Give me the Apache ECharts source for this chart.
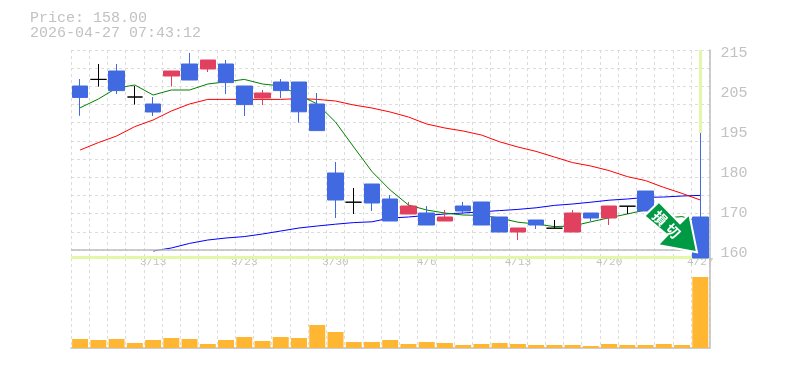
<!DOCTYPE html>
<html><head><meta charset="utf-8"><style>html,body{margin:0;padding:0;background:#fff}#c{width:785px;height:370px}</style>
<script src="https://cdn.jsdelivr.net/npm/echarts@6/dist/echarts.min.js"></script></head><body><div id="c"></div>
<script>
const categories=['3/9','3/10','3/11','3/12','3/13','3/16','3/17','3/18','3/19','3/23','3/24','3/25','3/26','3/27','3/30','3/31','4/1','4/2','4/3','4/6','4/7','4/8','4/9','4/10','4/13','4/14','4/15','4/16','4/17','4/20','4/21','4/22','4/23','4/24','4/27'];
const opens=[206.75,208.4,210.5,204,202.25,209.25,212.25,211,212.25,206.75,203.75,207.75,207.75,202.25,180,172.7,177.25,173.5,169.75,170,168,171.75,172.75,169,165.25,168.25,166.2,165.25,170,168.75,171.7,175.5,169.75,166.75,169];
const closes=[203.9,208.4,205.6,204,200.25,210.5,208.25,213.25,207.6,202.1,205,205.6,200.3,195.6,173.25,172.7,172.5,168,171.75,167,169,170.5,167,165.25,166.25,167,166.2,170,168.75,171.75,171.7,170.5,167.25,163.75,158.75];
const lows=[199.3,206.6,204.75,202.1,199.25,206.6,208.25,210.25,204.75,199.25,202,203.75,197.6,195.6,168.75,169.75,170.5,168,169.75,167,168,169.75,167,165.25,163.25,166,166.2,165.25,168,167,169.75,170.5,167.25,163.75,158.75];
const highs=[208.5,212.25,212.25,206.75,204,210.5,215,213.25,213.25,206.75,205.75,208.5,207.75,205,187.75,176.25,177.25,174.5,172.75,171.75,170.75,172.75,172.75,169,166.25,168.25,168.25,170.75,170,171.75,171.7,175.5,169.75,166.75,195];
const maShort=[201.3,203.5,206.25,207,204.5,205.75,205.75,207.25,207.8,208.4,207.25,206.75,204.5,202.25,197.75,191.5,185.35,175.75,172,170.75,170,169.5,169.4,168.75,167.7,167.25,166.6,166.75,167.8,168.8,169.75,170.75,168.75,169.1,167.75];
const maMid=[190.75,192.6,194.25,196.6,198.25,200.5,202.25,203.4,203.4,203.4,203.4,203.4,203.6,203.4,203,202,201.25,200.25,199,197.25,196.25,195.5,194.5,192.8,191.5,190.4,189,187.6,186.75,185.6,179.1,178.1,176.4,174.9,173.25];
const maLong=[null,null,null,null,160.5,161.25,162.4,163.25,163.75,164.1,164.75,165.5,166.25,166.75,167.2,167.6,167.8,168.75,169,169.4,169.75,170,170.3,170.6,170.9,171.3,171.9,172.25,172.7,173.2,173.5,173.9,174,174.25,174.4];
const volumes=[9,8,9,5,8,10,9,4,8,11,7,11,10,23,16,6,6,8,4,6,5,3,4,5,4,3,3,3,2,4,3,3,4,3,71];
const priceTicks=[215,205,195,180,170,160];
const labelledDates=['3/13','3/23','3/30','4/6','4/13','4/20','4/27'];
const titleText='Price: 158.00\n2026-04-27 07:43:12';
const signalText=['損','切'];

const BLUE='#4169e1',RED='#e2405f',GREY='#bdbdbd',LIGHT='#dcdcdc',TXT='#c2c2c2',YEL='#e4f7a8',MONO='"Liberation Mono","DejaVu Sans Mono",monospace';
const candles=categories.map((c,i)=>{
  const v=[opens[i],closes[i],lows[i],highs[i]];
  if(opens[i]===closes[i]) return {value:v,itemStyle:{color:'#000',color0:'#000',borderColor:'#000',borderColor0:'#000'}};
  return v;
});
const dash={show:true,lineStyle:{color:LIGHT,type:[3,3],width:1}};
const chart=echarts.init(document.getElementById('c'),null,{renderer:'canvas'});
chart.setOption({
  animation:false,backgroundColor:'#fff',
  title:{text:titleText,left:25,top:6,textStyle:{fontFamily:MONO,fontSize:15,fontWeight:'normal',color:TXT,lineHeight:14.5}},
  grid:[{left:71,top:50,width:638.4,height:208},{left:71,top:258,width:638.4,height:90}],
  xAxis:[
   {type:'category',gridIndex:0,data:categories,axisLine:{show:false},axisTick:{show:false},splitLine:Object.assign({interval:0},dash),
    axisLabel:{show:true,margin:-1,interval:0,color:TXT,fontFamily:MONO,fontSize:11,formatter:v=>labelledDates.includes(v)?v:''}},
   {type:'category',gridIndex:1,data:categories,axisLine:{show:true,lineStyle:{color:GREY,width:1.5}},axisTick:{show:false},axisLabel:{show:false},splitLine:Object.assign({interval:0},dash)}
  ],
  yAxis:[
   {type:'value',gridIndex:0,position:'right',min:158.75,max:215.75,breaks:[{start:180,end:185,gap:0}],breakArea:{show:false},
    axisLine:{show:true,lineStyle:{color:GREY,width:1.5}},axisTick:{show:false},splitLine:{show:false},
    axisLabel:{customValues:priceTicks,margin:11,color:TXT,fontFamily:MONO,fontSize:15,showMinLabel:true,showMaxLabel:true}},
   {type:'value',gridIndex:0,position:'left',inverse:true,min:0,max:11.44,interval:1,axisLine:{show:false},axisTick:{show:false},axisLabel:{show:false},splitLine:dash},
   {type:'value',gridIndex:1,position:'right',min:0,max:90,axisLine:{show:true,lineStyle:{color:GREY,width:1.5}},axisTick:{show:false},axisLabel:{show:false},splitLine:{show:false}}
  ],
  series:[
   {type:'line',name:'MA long',xAxisIndex:0,yAxisIndex:0,data:maLong,showSymbol:false,symbol:'none',connectNulls:false,lineStyle:{color:'#0000ff',width:1},z:2},
   {type:'line',name:'MA mid',xAxisIndex:0,yAxisIndex:0,data:maMid,symbol:'none',lineStyle:{color:'#ff0000',width:1},z:2},
   {type:'line',name:'MA short',xAxisIndex:0,yAxisIndex:0,data:maShort,symbol:'none',lineStyle:{color:'#008000',width:1},z:2},
   {type:'candlestick',xAxisIndex:0,yAxisIndex:0,data:candles,barWidth:16,clip:true,z:4,
    itemStyle:{color:RED,color0:BLUE,borderColor:RED,borderColor0:BLUE,borderWidth:1},
    markLine:{silent:true,symbol:'none',label:{show:false},z:3,animation:false,data:[
      [{coord:[categories[0],160.75],x:71,lineStyle:{color:GREY,width:1.5,type:'solid'}},{coord:[categories[34],160.75],x:709}],
      [{coord:[categories[0],159],x:71,lineStyle:{color:YEL,width:3,type:'solid'}},{coord:[categories[34],159],x:709}],
      [{coord:[categories[34],215.75],lineStyle:{color:YEL,width:3,type:'solid'}},{coord:[categories[34],195]}]
    ]}},
   {type:'bar',xAxisIndex:1,yAxisIndex:2,data:volumes,barWidth:16,itemStyle:{color:'#ffb733'}}
  ],
  graphic:[
    {type:'polygon',z:100,shape:{points:[[644.3,216],[659,201.7],[680,223.3],[689.3,214.3],[697,252.3],[657.7,245],[667.3,235]]},style:{fill:'#009944',stroke:'#fff',lineWidth:2}},
    {type:'text',z:101,x:660,y:218.3,rotation:-Math.PI/4,style:{text:signalText[0],fill:'#fff',font:'bold 14px "Noto Sans CJK JP"',align:'center',verticalAlign:'middle'}},
    {type:'text',z:101,x:673,y:231,rotation:-Math.PI/4,style:{text:signalText[1],fill:'#fff',font:'bold 14px "Noto Sans CJK JP"',align:'center',verticalAlign:'middle'}}
  ]
});
</script></body></html>
